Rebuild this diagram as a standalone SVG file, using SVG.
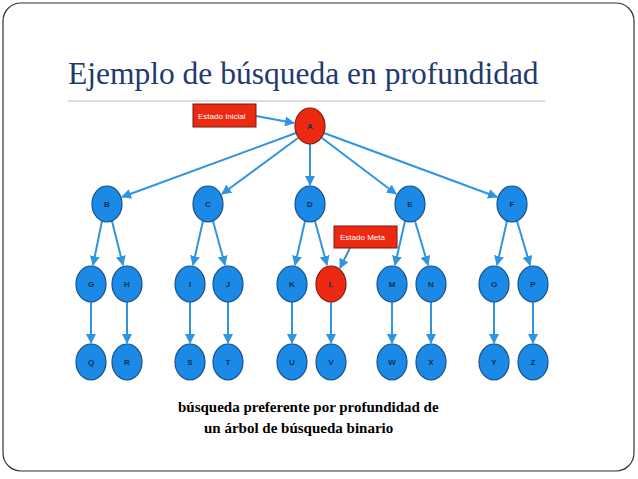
<svg xmlns="http://www.w3.org/2000/svg" width="638" height="479" viewBox="0 0 638 479">
<style>
.n{fill:#1a8ae6;stroke:#1a4f8a;stroke-width:1.2}
.r{fill:#ec2a12;stroke:#8a1a0a;stroke-width:1.2}
.t{font-family:"Liberation Sans",Arial,sans-serif;font-size:8px;font-weight:bold;fill:#10304f;text-anchor:middle;dominant-baseline:central}
.b{fill:#ec2a12;stroke:#7a1a0a}
.bt{font-family:"Liberation Sans",Arial,sans-serif;font-size:8px;fill:#fff}
.e{stroke:#2f95e0;stroke-width:2;fill:none;marker-end:url(#a)}
</style>
<defs><marker id="a" viewBox="0 0 10 10" refX="9" refY="5" markerWidth="5" markerHeight="5" orient="auto"><path d="M0,0L10,5L0,10z" fill="#2f95e0"/></marker></defs>
<rect x="3" y="3" width="631" height="468" rx="18" fill="#fff" stroke="#333" stroke-width="1.2"/>
<text x="68" y="84" font-family="Liberation Serif,serif" font-size="31.5" fill="#1f3a6e">Ejemplo de búsqueda en profundidad</text>
<line x1="68" y1="101" x2="545" y2="101" stroke="#bbb" stroke-width="1"/>
<g id="edges">
<line class="e" x1="256" y1="116" x2="294" y2="123"/>
<line class="e" x1="296" y1="133" x2="122" y2="197"/>
<line class="e" x1="298" y1="138" x2="222" y2="194"/>
<line class="e" x1="310" y1="144" x2="310" y2="185"/>
<line class="e" x1="322" y1="138" x2="396" y2="194"/>
<line class="e" x1="324" y1="133" x2="497" y2="197"/>
<line class="e" x1="102" y1="221" x2="93" y2="265"/>
<line class="e" x1="112" y1="221" x2="123" y2="265"/>
<line class="e" x1="203" y1="221" x2="193" y2="265"/>
<line class="e" x1="213" y1="221" x2="225" y2="265"/>
<line class="e" x1="305" y1="221" x2="295" y2="265"/>
<line class="e" x1="315" y1="221" x2="327" y2="265"/>
<line class="e" x1="405" y1="221" x2="395" y2="265"/>
<line class="e" x1="415" y1="221" x2="428" y2="265"/>
<line class="e" x1="507" y1="221" x2="497" y2="265"/>
<line class="e" x1="517" y1="221" x2="530" y2="265"/>
<line class="e" x1="350" y1="248" x2="340" y2="268"/>
<line class="e" x1="91" y1="302" x2="91" y2="343"/>
<line class="e" x1="127" y1="302" x2="127" y2="343"/>
<line class="e" x1="190" y1="302" x2="190" y2="343"/>
<line class="e" x1="228" y1="302" x2="228" y2="343"/>
<line class="e" x1="292" y1="302" x2="292" y2="343"/>
<line class="e" x1="331" y1="302" x2="331" y2="343"/>
<line class="e" x1="392" y1="302" x2="392" y2="343"/>
<line class="e" x1="431" y1="302" x2="431" y2="343"/>
<line class="e" x1="494" y1="302" x2="494" y2="343"/>
<line class="e" x1="533" y1="302" x2="533" y2="343"/>
</g>
<g id="estado-inicial"><rect class="b" x="193" y="104" width="63" height="23"/><text class="bt" x="198" y="119">Estado  Inicial</text></g>
<g id="estado-meta"><rect class="b" x="334" y="226" width="63" height="22"/><text class="bt" x="340" y="240">Estado  Meta</text></g>
<g id="A"><ellipse class="r" cx="310" cy="126" rx="15" ry="18"/><text class="t" x="310" y="126">A</text></g>
<g id="B"><ellipse class="n" cx="107" cy="204" rx="15" ry="18"/><text class="t" x="107" y="204">B</text></g>
<g id="C"><ellipse class="n" cx="208" cy="204" rx="15" ry="18"/><text class="t" x="208" y="204">C</text></g>
<g id="D"><ellipse class="n" cx="310" cy="204" rx="15" ry="18"/><text class="t" x="310" y="204">D</text></g>
<g id="E"><ellipse class="n" cx="410" cy="204" rx="15" ry="18"/><text class="t" x="410" y="204">E</text></g>
<g id="F"><ellipse class="n" cx="512" cy="204" rx="15" ry="18"/><text class="t" x="512" y="204">F</text></g>
<g id="G"><ellipse class="n" cx="91" cy="284" rx="15" ry="18"/><text class="t" x="91" y="284">G</text></g>
<g id="H"><ellipse class="n" cx="127" cy="284" rx="15" ry="18"/><text class="t" x="127" y="284">H</text></g>
<g id="I"><ellipse class="n" cx="190" cy="284" rx="15" ry="18"/><text class="t" x="190" y="284">I</text></g>
<g id="J"><ellipse class="n" cx="228" cy="284" rx="15" ry="18"/><text class="t" x="228" y="284">J</text></g>
<g id="K"><ellipse class="n" cx="292" cy="284" rx="15" ry="18"/><text class="t" x="292" y="284">K</text></g>
<g id="L"><ellipse class="r" cx="331" cy="284" rx="15" ry="18"/><text class="t" x="331" y="284">L</text></g>
<g id="M"><ellipse class="n" cx="392" cy="284" rx="15" ry="18"/><text class="t" x="392" y="284">M</text></g>
<g id="N"><ellipse class="n" cx="431" cy="284" rx="15" ry="18"/><text class="t" x="431" y="284">N</text></g>
<g id="O"><ellipse class="n" cx="494" cy="284" rx="15" ry="18"/><text class="t" x="494" y="284">O</text></g>
<g id="P"><ellipse class="n" cx="533" cy="284" rx="15" ry="18"/><text class="t" x="533" y="284">P</text></g>
<g id="Q"><ellipse class="n" cx="91" cy="362" rx="15" ry="18"/><text class="t" x="91" y="362">Q</text></g>
<g id="R"><ellipse class="n" cx="127" cy="362" rx="15" ry="18"/><text class="t" x="127" y="362">R</text></g>
<g id="S"><ellipse class="n" cx="190" cy="362" rx="15" ry="18"/><text class="t" x="190" y="362">S</text></g>
<g id="T"><ellipse class="n" cx="228" cy="362" rx="15" ry="18"/><text class="t" x="228" y="362">T</text></g>
<g id="U"><ellipse class="n" cx="292" cy="362" rx="15" ry="18"/><text class="t" x="292" y="362">U</text></g>
<g id="V"><ellipse class="n" cx="331" cy="362" rx="15" ry="18"/><text class="t" x="331" y="362">V</text></g>
<g id="W"><ellipse class="n" cx="392" cy="362" rx="15" ry="18"/><text class="t" x="392" y="362">W</text></g>
<g id="X"><ellipse class="n" cx="431" cy="362" rx="15" ry="18"/><text class="t" x="431" y="362">X</text></g>
<g id="Y"><ellipse class="n" cx="494" cy="362" rx="15" ry="18"/><text class="t" x="494" y="362">Y</text></g>
<g id="Z"><ellipse class="n" cx="533" cy="362" rx="15" ry="18"/><text class="t" x="533" y="362">Z</text></g>
<g font-family="Liberation Serif,serif" font-size="15" font-weight="bold" fill="#000">
<text x="178" y="412">búsqueda preferente por profundidad de</text>
<text x="204" y="433">un árbol de búsqueda binario</text>
</g>
</svg>
